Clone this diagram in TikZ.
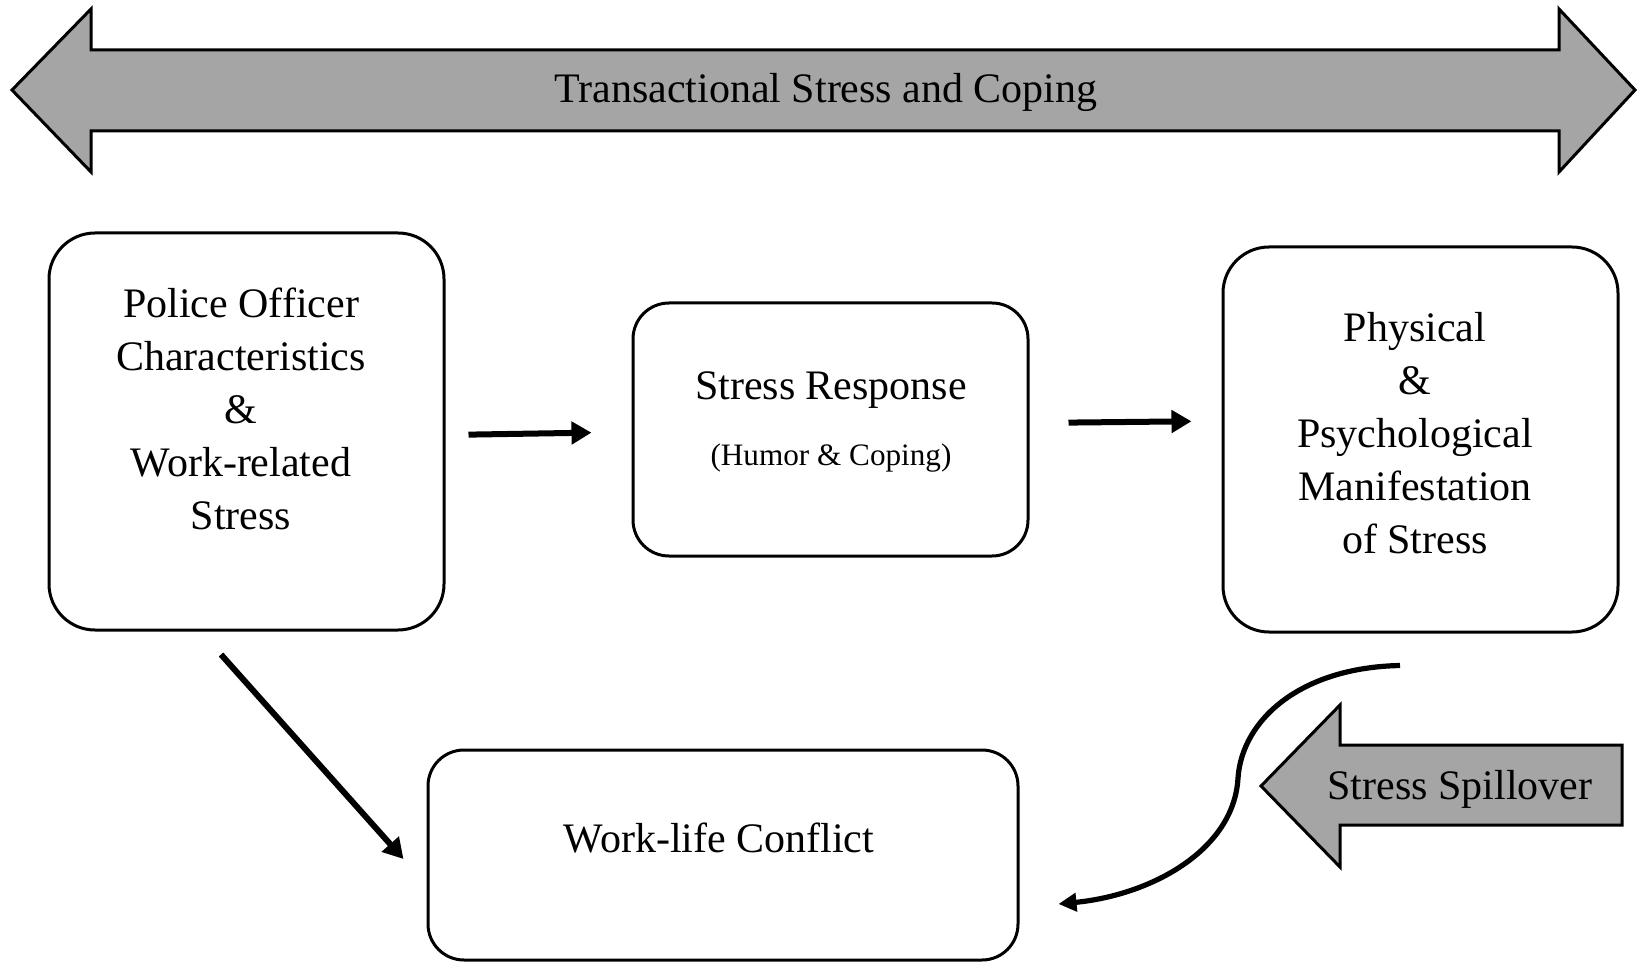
\documentclass[tikz,border=0pt]{standalone}
\usepackage{fontspec}
\setmainfont{Liberation Serif}
\usetikzlibrary{arrows.meta}
\definecolor{arrowgray}{RGB}{165,165,165}
\begin{document}
\begin{tikzpicture}[x=0.5pt,y=-0.5pt,
  box/.style={draw=black, line width=1.5pt, fill=white},
  bigtext/.style={font=\fontsize{21}{26.5}\selectfont, align=center, inner sep=0pt},
  smalltext/.style={font=\fontsize{15.6}{18}\selectfont, align=center, inner sep=0pt},
  bigarrow/.style={draw=black, line width=1.5pt, fill=arrowgray, line join=miter},
  conn/.style={line width=3pt, -{Triangle[length=10pt,width=11pt]}},
  curveconn/.style={line width=2.6pt, -{Triangle[length=9pt,width=9pt]}}]
\useasboundingbox (0,0) rectangle (1638,962);

% Top double arrow
\draw[bigarrow] (12,90) -- (91,9) -- (91,50) -- (1559,50) -- (1559,9) -- (1635,90)
  -- (1559,172) -- (1559,131) -- (91,131) -- (91,172) -- cycle;
\node[bigtext] (title) at (826,92) {Transactional Stress and Coping};

% Boxes
\node[box, rounded corners=23pt, minimum width=197.5pt, minimum height=198.5pt] (b1) at (246.5,431.5) {};
\node[box, rounded corners=18pt, minimum width=197.5pt, minimum height=126.5pt] (b2) at (830.5,429.5) {};
\node[box, rounded corners=23pt, minimum width=197.5pt, minimum height=192.5pt] (b3) at (1420.5,439.5) {};
\node[box, rounded corners=18pt, minimum width=295pt, minimum height=105pt] (b4) at (723,855) {};

% Box texts
\node[bigtext] (t1) at (241,409) {Police Officer\\Characteristics\\\&\\Work-related\\Stress};
\node[bigtext] (t2a) at (831,390) {Stress Response};
\node[smalltext] (t2b) at (831,458) {(Humor \& Coping)};
\node[bigtext] (t3) at (1415,433) {Physical\\\&\\Psychological\\Manifestation\\of Stress};
\node[bigtext] (t4) at (719,838) {Work-life Conflict};

% Straight connectors
\draw[conn, shorten <=11.5pt, shorten >=20pt] ([yshift=-1.75pt]b1.east) -- ([yshift=-1.25pt]b2.west);
\draw[conn, shorten <=19.5pt, shorten >=15pt] ([yshift=3.25pt]b2.east) -- ([yshift=9.25pt]b3.west);
\coordinate (d1) at ([xshift=-12.75pt,yshift=-11.5pt]b1.south);
\coordinate (d2) at ([xshift=-11.5pt,yshift=-2pt]b4.west);
\draw[conn] (d1) -- (d2);

% Stress spillover arrow
\draw[bigarrow] (1261,786) -- (1340,705) -- (1340,745) -- (1622,745) -- (1622,825)
  -- (1340,825) -- (1340,867) -- cycle;
\node[bigtext] (spill) at (1460,789) {Stress Spillover};

% Curved connector
\coordinate (cs) at ([xshift=-10.25pt,yshift=-16pt]b3.south);
\coordinate (cm) at (1238,778);
\coordinate (ce) at ([xshift=19.5pt,yshift=-24.5pt]b4.east);
\draw[curveconn] (cs) .. controls +(-100,2) and +(4,-58) .. (cm)
  .. controls +(-4,72) and +(93,-9) .. (ce);
\end{tikzpicture}
\end{document}
